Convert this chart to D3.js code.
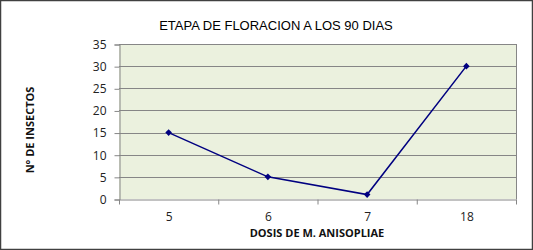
<!DOCTYPE html>
<html lang="en">
<head>
    <meta charset="UTF-8">
    <title>Floracion</title>
    <script src="https://d3js.org/d3.v7.min.js"></script>
    <style>
        body { margin: 0; background: #fff; }
    </style>
</head>
<body>
    <div id="chart"></div>
    <script>
        var categories = ['5', '6', '7', '18'];
        var insectos = [15, 5, 1, 30];
        var yTicks = [0, 5, 10, 15, 20, 25, 30, 35];

        var width = 533,
            height = 250;
        var plot = {left: 119, right: 516, top: 44, bottom: 199};

        var svg = d3.select('#chart')
            .append('svg')
            .attr('width', width)
            .attr('height', height);

        // marco exterior
        svg.append('rect')
            .attr('x', 0.5).attr('y', 0.5)
            .attr('width', width - 1).attr('height', height - 1)
            .attr('fill', '#fff')
            .attr('stroke', '#404040')
            .attr('stroke-width', 1.5);

        var x = d3.scaleBand()
            .domain(categories)
            .range([plot.left, plot.right])
            .padding(0);
        var y = d3.scaleLinear()
            .domain([0, 35])
            .range([plot.bottom, plot.top]);

        svg.append('rect')
            .attr('x', plot.left).attr('y', plot.top)
            .attr('width', plot.right - plot.left)
            .attr('height', plot.bottom - plot.top)
            .attr('fill', '#ebf1de');

        // lineas de cuadricula
        svg.append('g')
            .selectAll('line')
            .data(yTicks.slice(1))
            .enter()
            .append('line')
            .attr('x1', plot.left).attr('x2', plot.right)
            .attr('y1', d => Math.round(y(d)) + 0.5)
            .attr('y2', d => Math.round(y(d)) + 0.5)
            .attr('stroke', '#868686');

        svg.append('line')
            .attr('x1', plot.right + 0.5).attr('x2', plot.right + 0.5)
            .attr('y1', plot.top).attr('y2', plot.bottom)
            .attr('stroke', '#868686');

        var yAxis = svg.append('g')
            .attr('transform', 'translate(' + (plot.left + 0.5) + ',0.5)')
            .call(d3.axisLeft(y).tickValues(yTicks).tickSize(5).tickPadding(8));
        var xAxis = svg.append('g')
            .attr('transform', 'translate(0.5,' + (plot.bottom + 0.5) + ')')
            .call(d3.axisBottom(x).tickSize(0).tickPadding(13));

        // marcas entre categorias
        xAxis.selectAll('.sep')
            .data(categories.concat(['']))
            .enter()
            .append('line')
            .attr('x1', (d, i) => i < categories.length ? x(d) : plot.right)
            .attr('x2', (d, i) => i < categories.length ? x(d) : plot.right)
            .attr('y1', 0).attr('y2', 5)
            .attr('stroke', '#868686');

        svg.selectAll('.domain').attr('stroke', '#868686');
        svg.selectAll('.tick line').attr('stroke', '#868686');
        svg.selectAll('.tick text')
            .attr('font-family', 'Open Sans, sans-serif')
            .attr('font-size', '12px')
            .attr('fill', '#222');

        var line = d3.line()
            .x((d, i) => x(categories[i]) + x.bandwidth() / 2)
            .y(d => y(d));

        svg.append('path')
            .datum(insectos)
            .attr('d', line)
            .attr('fill', 'none')
            .attr('stroke', '#000080')
            .attr('stroke-width', 1.5);

        svg.append('g')
            .selectAll('path')
            .data(insectos)
            .enter()
            .append('path')
            .attr('d', d3.symbol().type(d3.symbolSquare).size(22))
            .attr('transform', (d, i) => 'translate(' + (x(categories[i]) + x.bandwidth() / 2) + ',' + y(d) + ') rotate(45)')
            .attr('fill', '#000080');

        svg.append('text')
            .attr('x', 276).attr('y', 30)
            .attr('text-anchor', 'middle')
            .attr('font-family', 'Liberation Sans, Arial, sans-serif')
            .attr('font-size', '13px')
            .attr('fill', '#000')
            .text('ETAPA DE FLORACION A LOS 90 DIAS');

        svg.append('text')
            .attr('transform', 'translate(34,130) rotate(-90)')
            .attr('text-anchor', 'middle')
            .attr('font-family', 'Open Sans, sans-serif')
            .attr('font-weight', 'bold')
            .attr('font-size', '11px')
            .attr('fill', '#111')
            .text('N° DE INSECTOS');

        svg.append('text')
            .attr('x', 317).attr('y', 237)
            .attr('text-anchor', 'middle')
            .attr('font-family', 'Open Sans, sans-serif')
            .attr('font-weight', 'bold')
            .attr('font-size', '11px')
            .attr('fill', '#111')
            .text('DOSIS DE M. ANISOPLIAE');
    </script>
</body>
</html>
